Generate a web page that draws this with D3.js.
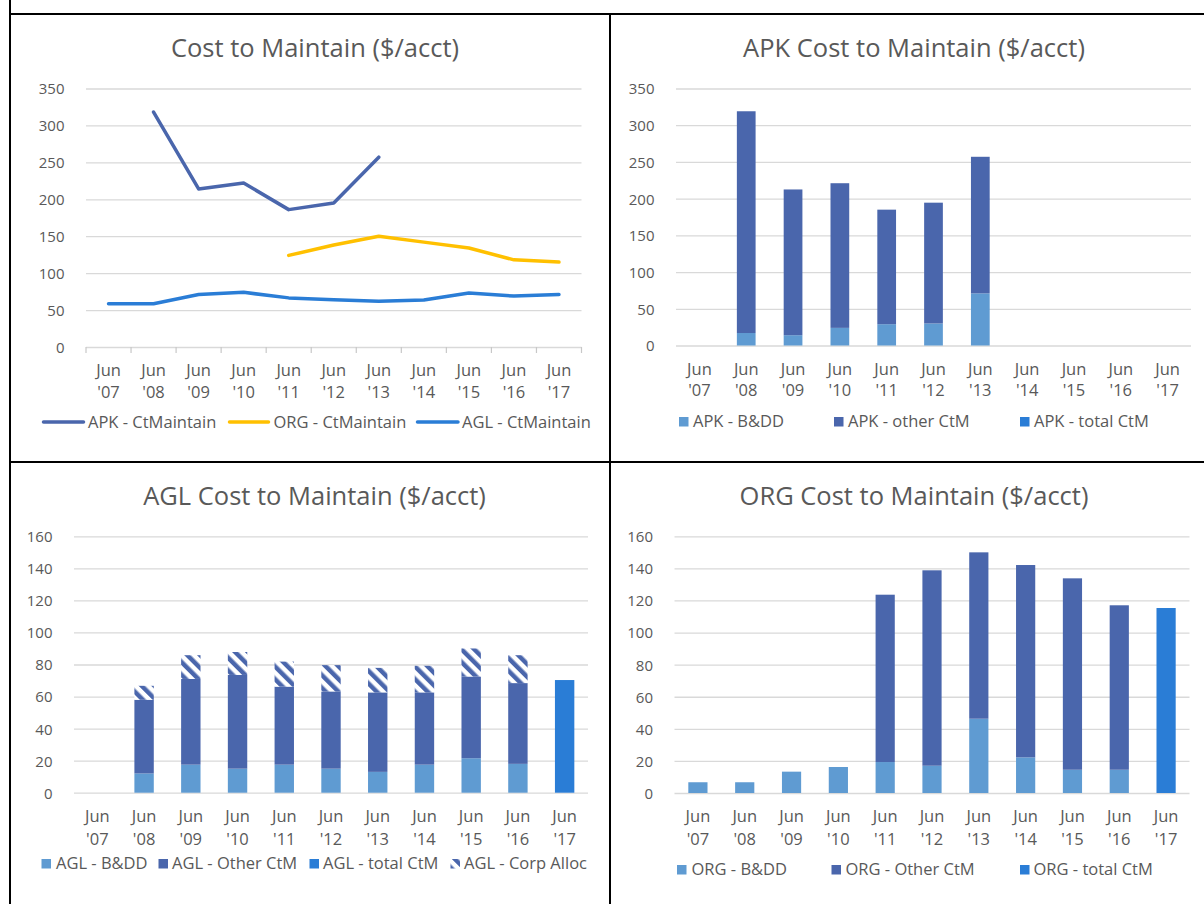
<!DOCTYPE html>
<html><head><meta charset="utf-8">
<script src="https://cdn.jsdelivr.net/npm/d3@7"></script>
<style>
body{margin:0;background:#fff}
svg{display:block}
text{font-family:'Open Sans',sans-serif;fill:#595959}
</style>
</head><body>
<svg id="c" width="1204" height="904"></svg>
<script>
// ---------- data ----------
const years = ["'07","'08","'09","'10","'11","'12","'13","'14","'15","'16","'17"];
const monthLabel = "Jun";

// Panel 1: lines
const apkCtM = [null,318,214,222,186,195,257,null,null,null,null];
const orgCtM = [null,null,null,null,124,138,150,142,134,118,115];
const aglCtM = [58.5,58.5,71,74,66.5,64,62,63.5,73,69,71];

// Panel 2: APK stacked
const apkBDD   = [null,17,14,24,29,30,71,null,null,null,null];
const apkOther = [null,302,198.5,197,156,164.5,186,null,null,null,null];
const apkTotal = [null,null,null,null,null,null,null,null,null,null,null];

// Panel 3: AGL stacked
const aglBDD   = [null,12,17.5,15,17.5,15,13,17.5,21.5,18,null];
const aglOther = [null,46,53.5,58.5,48.7,48.2,49.6,45.1,51,50.4,null];
const aglCorp  = [null,8.7,14.8,14.3,15.6,16.4,15.3,16.6,17.5,17.4,null];
const aglTotal = [null,null,null,null,null,null,null,null,null,null,70.3];

// Panel 4: ORG stacked
const orgBDD   = [6.7,6.7,13.3,16.2,19.3,17,46.3,22.2,14.5,14.5,null];
const orgOther = [null,null,null,null,104.3,121.8,103.7,119.9,119.3,102.5,null];
const orgTotal = [null,null,null,null,null,null,null,null,null,null,115.3];

const ticks350 = [0,50,100,150,200,250,300,350];
const ticks160 = [0,20,40,60,80,100,120,140,160];

// ---------- styles ----------
const C = {
  dark:"#4a66ac", light:"#5f9bd2", total:"#2a7dd6", gold:"#ffc000",
  grid:"#d9d9d9", text:"#595959"
};

const svg = d3.select("#c");
const defs = svg.append("defs");
const pat = defs.append("pattern").attr("id","corp").attr("patternUnits","userSpaceOnUse")
  .attr("width",9).attr("height",9).attr("patternTransform","rotate(-45)");
pat.append("rect").attr("width",9).attr("height",9).attr("fill","#fff");
pat.append("rect").attr("width",4.5).attr("height",9).attr("fill",C.dark);

// frame lines
const frame = svg.append("g").attr("fill","#000");
frame.append("rect").attr("x",9).attr("y",0).attr("width",2).attr("height",904);
frame.append("rect").attr("x",9).attr("y",13).attr("width",1195).attr("height",2);
frame.append("rect").attr("x",609).attr("y",13).attr("width",2).attr("height",891);
frame.append("rect").attr("x",9).attr("y",461).attr("width",1195).attr("height",2);

function panel(o){
  const g = svg.append("g");
  const x = d3.scaleBand().domain(years).range([o.x0,o.x1]).paddingInner(o.pad).paddingOuter(o.pad/2);
  const y = d3.scaleLinear().domain([0,o.max]).range([o.yBot,o.yTop]);
  // title
  g.append("text").attr("x",o.tx).attr("y",o.ty).attr("text-anchor","middle")
    .style("font-size","25.5px").text(o.title);
  // y axis with gridlines
  const ya = g.append("g").attr("transform",`translate(${o.x0},0)`)
    .call(d3.axisLeft(y).tickValues(o.ticks).tickSize(-(o.x1-o.x0)).tickPadding(21.5).tickFormat(d3.format("d")));
  ya.select(".domain").remove();
  ya.selectAll(".tick line").attr("stroke",C.grid).attr("stroke-width",1.3);
  ya.selectAll(".tick text").style("font-size","15px").style("font-family","'Open Sans',sans-serif")
    .attr("fill",C.text).attr("dy","0.36em");
  // x axis labels
  const xa = g.append("g").attr("transform",`translate(0,${o.yBot})`)
    .call(d3.axisBottom(x).tickSize(0).tickPadding(0));
  xa.select(".domain").remove();
  xa.selectAll(".tick text").each(function(d){
    const t = d3.select(this).text(null).attr("y",0).attr("dy",null)
      .style("font-size","16.5px").style("font-family","'Open Sans',sans-serif").attr("fill",C.text);
    t.append("tspan").attr("x",0).attr("y",o.lab1-o.yBot).text(monthLabel);
    t.append("tspan").attr("x",0).attr("y",o.lab2-o.yBot).text(d);
  });
  return {g,x,y};
}

function legendSquares(g, items, y){
  items.forEach(it=>{
    g.append("rect").attr("x",it.sx).attr("y",y-10).attr("width",9.5).attr("height",9.5).attr("fill",it.fill);
    g.append("text").attr("x",it.tx).attr("y",y).style("font-size","16.5px").text(it.label);
  });
}

function stacked(p, keys, series, fills){
  const data = years.map((yr,i)=>{
    const o = {year:yr};
    keys.forEach((k,j)=>o[k]=series[j][i]||0);
    return o;
  });
  const st = d3.stack().keys(keys)(data);
  st.forEach((layer,j)=>{
    p.g.append("g").attr("fill",fills[j]).selectAll("rect")
      .data(layer.filter(d=>d[1]-d[0]>0)).join("rect")
      .attr("x",d=>p.x(d.data.year)).attr("width",p.x.bandwidth())
      .attr("y",d=>p.y(d[1])).attr("height",d=>p.y(d[0])-p.y(d[1]));
  });
}

// ---------- Panel 1 ----------
{
  const p = panel({title:"Cost to Maintain ($/acct)",tx:315,ty:56.5,x0:86,x1:581.5,yTop:88.5,yBot:347,max:350,
    ticks:ticks350,pad:0.58,lab1:376,lab2:398});
  // category boundary ticks
  p.g.append("g").selectAll("line").data(d3.range(years.length+1)).join("line")
    .attr("x1",i=>p.x.range()[0]+i*p.x.step()).attr("x2",i=>p.x.range()[0]+i*p.x.step())
    .attr("y1",p.y(0)).attr("y2",p.y(0)+6).attr("stroke","#c8c8c8").attr("stroke-width",1.2);
  const line = d3.line().defined(d=>d.v!=null).x(d=>p.x(d.yr)+p.x.bandwidth()/2).y(d=>p.y(d.v));
  const series = [[apkCtM,C.dark],[orgCtM,C.gold],[aglCtM,C.total]];
  series.forEach(([arr,col])=>{
    p.g.append("path").datum(arr.map((v,i)=>({yr:years[i],v})))
      .attr("fill","none").attr("stroke",col).attr("stroke-width",3.5)
      .attr("stroke-linejoin","round").attr("stroke-linecap","round").attr("d",line);
  });
  const lg = [
    {col:C.dark,x1:43.5,x2:83.5,tx:88,label:"APK - CtMaintain"},
    {col:C.gold,x1:229.5,x2:268.5,tx:273.5,label:"ORG - CtMaintain"},
    {col:C.total,x1:417.5,x2:458,tx:462,label:"AGL - CtMaintain"}];
  lg.forEach(l=>{
    p.g.append("line").attr("x1",l.x1).attr("x2",l.x2).attr("y1",422).attr("y2",422)
      .attr("stroke",l.col).attr("stroke-width",3.5).attr("stroke-linecap","round");
    p.g.append("text").attr("x",l.tx).attr("y",428).style("font-size","16.5px").text(l.label);
  });
}

// ---------- Panel 2 ----------
{
  const p = panel({title:"APK Cost to Maintain ($/acct)",tx:914,ty:56.5,x0:676,x1:1191,yTop:88.5,yBot:345.5,max:350,
    ticks:ticks350,pad:0.6,lab1:375,lab2:396});
  stacked(p,["bdd","other","total"],[apkBDD,apkOther,apkTotal],[C.light,C.dark,C.total]);
  legendSquares(p.g,[
    {sx:679,tx:693,fill:C.light,label:"APK - B&DD"},
    {sx:834,tx:848,fill:C.dark,label:"APK - other CtM"},
    {sx:1020,tx:1034,fill:C.total,label:"APK - total CtM"}],427);
}

// ---------- Panel 3 ----------
{
  const p = panel({title:"AGL Cost to Maintain ($/acct)",tx:314.5,ty:505,x0:74,x1:588,yTop:536.3,yBot:792.7,max:160,
    ticks:ticks160,pad:0.585,lab1:822,lab2:845});
  stacked(p,["bdd","other","corp","total"],[aglBDD,aglOther,aglCorp,aglTotal],[C.light,C.dark,"url(#corp)",C.total]);
  legendSquares(p.g,[
    {sx:41.5,tx:56,fill:C.light,label:"AGL - B&DD"},
    {sx:158.5,tx:172,fill:C.dark,label:"AGL - Other CtM"},
    {sx:309.5,tx:323,fill:C.total,label:"AGL - total CtM"},
    {sx:450.5,tx:464,fill:"url(#corp)",label:"AGL - Corp Alloc"}],869);
}

// ---------- Panel 4 ----------
{
  const p = panel({title:"ORG Cost to Maintain ($/acct)",tx:914,ty:505,x0:674.5,x1:1189.5,yTop:536.3,yBot:793,max:160,
    ticks:ticks160,pad:0.59,lab1:822,lab2:845});
  stacked(p,["bdd","other","total"],[orgBDD,orgOther,orgTotal],[C.light,C.dark,C.total]);
  legendSquares(p.g,[
    {sx:677,tx:691.5,fill:C.light,label:"ORG - B&DD"},
    {sx:831.5,tx:845.5,fill:C.dark,label:"ORG - Other CtM"},
    {sx:1020,tx:1033.5,fill:C.total,label:"ORG - total CtM"}],875);
}
</script>
</body></html>
